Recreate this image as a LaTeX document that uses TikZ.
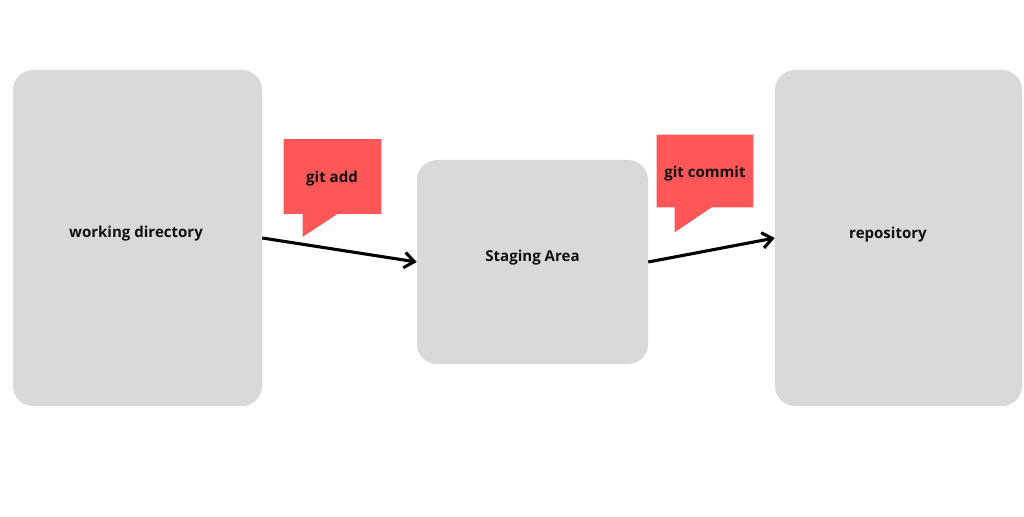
\documentclass[tikz,border=0pt]{standalone}
\usepackage{fontspec}
\setmainfont{Open Sans}
\usetikzlibrary{arrows.meta}
\definecolor{boxgray}{HTML}{D9D9D9}
\definecolor{bubred}{HTML}{FF5757}
\definecolor{txt}{HTML}{111111}
\begin{document}
\begin{tikzpicture}[x=0.025cm,y=-0.025cm,
  area/.style={fill=boxgray,draw=none,rounded corners=0.5cm,inner sep=0pt},
  lbl/.style={font=\bfseries\fontsize{10.7}{12}\selectfont,text=txt},
  bubble/.style={draw=none,inner sep=0pt},
  flow/.style={line width=2.2pt,black,-{Straight Barb[length=7pt,width=11pt,line width=2.2pt]}}]
\useasboundingbox (0,0) rectangle (1024,517);
\node[area,minimum width=249*0.025cm,minimum height=336*0.025cm] (wd) at (137.5,238) {};
\node[lbl] (wdlabel) at (136,234) {working directory};
\node[area,minimum width=231*0.025cm,minimum height=204*0.025cm] (sa) at (532.5,262) {};
\node[lbl] (salabel) at (532.5,258) {Staging Area};
\node[area,minimum width=247*0.025cm,minimum height=336*0.025cm] (repo) at (898.5,238) {};
\node[lbl] (repolabel) at (888,235) {repository};
% bubbles
\node[bubble,minimum width=97*0.025cm,minimum height=74*0.025cm] (ga) at (332.5,176.5) {};
\fill[bubred] (ga.north west) -- (ga.north east) -- (ga.south east)
  -- ([xshift=54*0.025cm]ga.south west) -- ++(-35,23) -- ++(0,-23)
  -- (ga.south west) -- cycle;
\node[lbl] (galabel) at (332,179) {git add};
\node[bubble,minimum width=96*0.025cm,minimum height=72*0.025cm] (gc) at (705,171) {};
\fill[bubred] (gc.north west) -- (gc.north east) -- (gc.south east)
  -- ([xshift=55*0.025cm]gc.south west) -- ++(-37,25) -- ++(0,-25)
  -- (gc.south west) -- cycle;
\node[lbl] (gclabel) at (705,174) {git commit};
% arrows
\draw[flow] (wd.east) -- (sa.west);
\draw[flow] (sa.east) -- (repo.west);
\end{tikzpicture}
\end{document}
